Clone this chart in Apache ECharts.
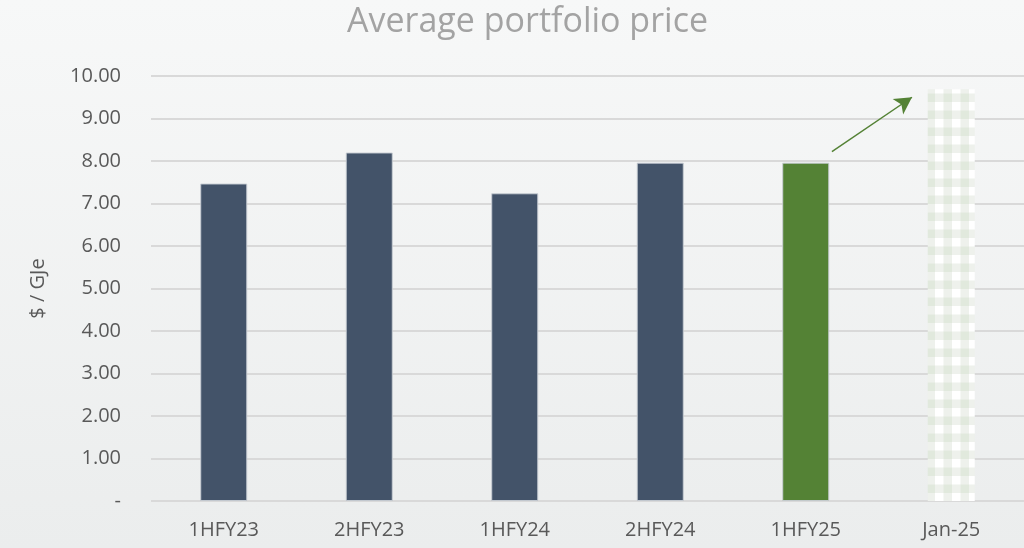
<!DOCTYPE html>
<html><head><meta charset="utf-8">
<script src="https://cdn.jsdelivr.net/npm/echarts@6/dist/echarts.min.js"></script>
<style>html,body{margin:0;padding:0;}#c{width:1024px;height:548px;}</style>
</head><body><div id="c"></div>
<script>
const categories = ['1HFY23','2HFY23','1HFY24','2HFY24','1HFY25','Jan-25'];
const values = [7.47, 8.20, 7.24, 7.96, 7.96, 9.69];
const barKinds = ['actual','actual','actual','actual','latest','forecast'];
const yTicks = [0,1,2,3,4,5,6,7,8,9,10];
const arrowStart = [4.68, 8.22];
const arrowEnd = [5.23, 9.50];

function gingham(){
  const c = document.createElement('canvas');
  c.width = 17; c.height = 17;
  const g = c.getContext('2d');
  g.fillStyle = '#ffffff'; g.fillRect(0,0,17,17);
  g.fillStyle = '#eef1ec'; g.fillRect(8.5,0,8.5,17); g.fillRect(0,8.5,17,8.5);
  g.fillStyle = '#e1e9dd'; g.fillRect(8.5,8.5,8.5,8.5);
  return c;
}
const pattern = {image: gingham(), repeat: 'repeat'};
const colorFor = {actual:'#435369', latest:'#548235', forecast: pattern};

const chart = echarts.init(document.getElementById('c'));
const font = '"Open Sans", "Noto Sans", sans-serif';
chart.setOption({
  animation:false,
  backgroundColor: {type:'linear', x:0,y:0,x2:0,y2:1, colorStops:[{offset:0,color:'#f7f8f8'},{offset:1,color:'#ebeded'}]},
  title:{text:'Average portfolio price', left:342, top:0,
    textStyle:{fontFamily:font, fontSize:34, fontWeight:'normal', color:'#a3a3a3'}},
  grid:{left:151, right:0, top:76, bottom:47},
  xAxis:[{type:'category', data:categories,
    axisLine:{show:false}, axisTick:{show:false},
    axisLabel:{fontFamily:font, fontSize:20, color:'#595959', margin:19}},
    {type:'value', min:0, max:6, show:false}],
  yAxis:{type:'value', min:0, max:10, interval:1,
    name:'$ / GJe', nameLocation:'middle', nameGap:103, nameRotate:90,
    nameTextStyle:{fontFamily:font, fontSize:20, color:'#595959'},
    axisLabel:{fontFamily:font, fontSize:20, color:'#595959', margin:30,
      formatter:v => v===0 ? '-' : v.toFixed(2)},
    splitLine:{lineStyle:{color:'#d9d9d9', width:2}},
    axisLine:{show:false}, axisTick:{show:false}},
  series:[{type:'bar', barWidth:47,
    data: values.map((v,i)=>({value:v, itemStyle:{color:colorFor[barKinds[i]], borderColor: barKinds[i]==='forecast'?'transparent':'rgba(200,205,212,0.9)', borderWidth: barKinds[i]==='forecast'?0:1}}))},
   {type:'line', xAxisIndex:1, data:[], silent:true,
    markLine:{silent:true, symbolSize:[14,17], label:{show:false},
      lineStyle:{color:'#548235', width:1.5, type:'solid'},
      data:[[{coord:arrowStart, symbol:'none'},{coord:arrowEnd, symbol:'arrow'}]]}}]
});
</script></body></html>
